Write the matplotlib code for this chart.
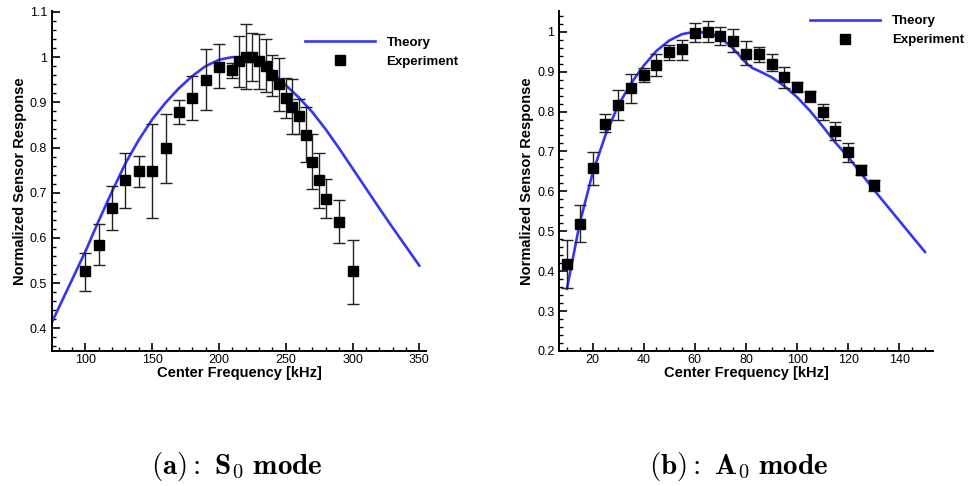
import matplotlib
matplotlib.use("Agg")
import matplotlib.pyplot as plt
from matplotlib.ticker import MultipleLocator, FormatStrFormatter

plt.rcParams['font.family'] = ['Liberation Sans', 'DejaVu Sans']
plt.rcParams['mathtext.fontset'] = 'cm'

# S0 mode: theory curve
s0_theory_f = [75, 88, 100, 110, 120, 130, 140, 150, 160, 170, 180, 190, 200, 210,
               220, 230, 240, 250, 260, 270, 280, 290, 300, 310, 320, 330, 340, 350]
s0_theory = [0.414, 0.495, 0.57, 0.638, 0.703, 0.765, 0.817, 0.862, 0.899, 0.931, 0.958, 0.98, 0.994, 1.0,
             0.998, 0.986, 0.965, 0.938, 0.91, 0.878, 0.84, 0.798, 0.754, 0.71, 0.666, 0.623, 0.581, 0.539]

# S0 mode: experiment
s0_f = [100, 110, 120, 130, 140, 150, 160, 170, 180, 190, 200, 210, 215, 220,
        225, 230, 235, 240, 245, 250, 255, 260, 265, 270, 275, 280, 290, 300]
s0_y = [0.526, 0.585, 0.666, 0.729, 0.748, 0.748, 0.799, 0.879, 0.909, 0.949, 0.979, 0.971, 0.991, 1.0,
        1.0, 0.991, 0.98, 0.96, 0.94, 0.909, 0.89, 0.87, 0.827, 0.767, 0.728, 0.686, 0.636, 0.526]
s0_hi = [0.567, 0.631, 0.715, 0.787, 0.782, 0.851, 0.875, 0.905, 0.958, 1.017, 1.028, 0.987, 1.046, 1.074,
         1.054, 1.052, 1.039, 1.004, 0.999, 0.954, 0.951, 0.908, 0.89, 0.829, 0.789, 0.73, 0.684, 0.595]
s0_lo = [0.483, 0.540, 0.617, 0.667, 0.712, 0.645, 0.721, 0.852, 0.860, 0.882, 0.932, 0.954, 0.934, 0.929,
         0.947, 0.93, 0.923, 0.915, 0.88, 0.866, 0.829, 0.829, 0.768, 0.708, 0.666, 0.644, 0.588, 0.455]

# A0 mode: theory curve
a0_theory_f = [10, 15, 20, 25, 30, 35, 40, 45, 50, 55, 60, 65, 70, 75, 80, 82.5, 85,
               90, 95, 100, 105, 110, 115, 120, 125, 130, 135, 140, 145, 150]
a0_theory = [0.356, 0.52, 0.645, 0.74, 0.815, 0.87, 0.915, 0.952, 0.978, 0.994, 1.0, 0.997, 0.985, 0.958, 0.922, 0.909, 0.902,
             0.886, 0.864, 0.836, 0.802, 0.763, 0.722, 0.686, 0.645, 0.604, 0.565, 0.526, 0.487, 0.448]

# A0 mode: experiment
a0_f = [10, 15, 20, 25, 30, 35, 40, 45, 50, 55, 60, 65, 70, 75, 80, 85, 90,
        95, 100, 105, 110, 115, 120, 125, 130]
a0_y = [0.417, 0.518, 0.658, 0.77, 0.816, 0.858, 0.891, 0.916, 0.948, 0.956, 0.998, 1.0, 0.99, 0.978, 0.945, 0.943, 0.92,
        0.887, 0.862, 0.839, 0.799, 0.752, 0.699, 0.653, 0.617]
a0_hi = [0.477, 0.565, 0.699, 0.793, 0.853, 0.895, 0.908, 0.943, 0.968, 0.98, 1.023, 1.027, 1.012, 1.006, 0.977, 0.962, 0.943,
         0.912, 0.873, 0.852, 0.82, 0.773, 0.721, 0.667, 0.629]
a0_lo = [0.358, 0.473, 0.617, 0.749, 0.78, 0.821, 0.875, 0.89, 0.929, 0.929, 0.974, 0.974, 0.968, 0.95, 0.916, 0.925, 0.902,
         0.86, 0.85, 0.825, 0.778, 0.728, 0.674, 0.642, 0.60]

captions = [r'$\mathbf{(a){:}\ S}_0\ \mathbf{mode}$', r'$\mathbf{(b){:}\ A}_0\ \mathbf{mode}$']

blue = '#3535f5'

fig = plt.figure(figsize=(9.75, 4.86), dpi=100)
ax1 = fig.add_axes([0.0533, 0.2778, 0.3836, 0.6996])
ax2 = fig.add_axes([0.5736, 0.2778, 0.3830, 0.6996])


def draw_panel(ax, tf, ty, f, y, lo, hi, xlim, ylim, xmaj, xmin, ymaj, legend_pos):
    ax.plot(tf, ty, color=blue, lw=1.9, label='Theory', zorder=2)
    yerr = [[a - b for a, b in zip(y, lo)], [b - a for a, b in zip(y, hi)]]
    ax.errorbar(f, y, yerr=yerr, fmt='none', ecolor='#222222', elinewidth=1.0,
                capsize=4.3, capthick=1.0, zorder=3)
    ax.plot(f, y, 's', color='black', ms=6.8, label='Experiment', zorder=4)
    ax.set_xlim(*xlim)
    ax.set_ylim(*ylim)
    ax.spines['top'].set_visible(False)
    ax.spines['right'].set_visible(False)
    for s in ['left', 'bottom']:
        ax.spines[s].set_linewidth(1.4)
    ax.xaxis.set_major_locator(MultipleLocator(xmaj))
    ax.xaxis.set_minor_locator(MultipleLocator(xmin))
    ax.yaxis.set_major_locator(MultipleLocator(ymaj))
    ax.yaxis.set_minor_locator(MultipleLocator(0.02))
    ax.yaxis.set_major_formatter(FormatStrFormatter('%g'))
    ax.tick_params(which='both', direction='in', labelsize=9, colors='black')
    ax.tick_params(which='major', length=6, width=1.2)
    ax.tick_params(which='minor', length=3, width=1.0)
    ax.tick_params(axis='x', pad=2)
    ax.set_xlabel('Center Frequency [kHz]', fontsize=10.5, fontweight='bold', labelpad=0)
    ax.set_ylabel('Normalized Sensor Response', fontsize=10.5, fontweight='bold', labelpad=2)
    ax.legend(loc='upper left', bbox_to_anchor=legend_pos, frameon=False,
              prop={'weight': 'bold', 'size': 9.5}, handlelength=5.3,
              handletextpad=0.9, labelspacing=0.5, borderpad=0, borderaxespad=0)


draw_panel(ax1, s0_theory_f, s0_theory, s0_f, s0_y, s0_lo, s0_hi,
           (75, 355), (0.35, 1.102), 50, 10, 0.1, (0.676, 0.925))
draw_panel(ax2, a0_theory_f, a0_theory, a0_f, a0_y, a0_lo, a0_hi,
           (7, 153), (0.2, 1.052), 20, 5, 0.1, (0.671, 0.988))

fig.text(0.243, 0.041, captions[0], ha='center', va='center', fontsize=21)
fig.text(0.758, 0.041, captions[1], ha='center', va='center', fontsize=21)

fig.savefig('out.png', dpi=100)
